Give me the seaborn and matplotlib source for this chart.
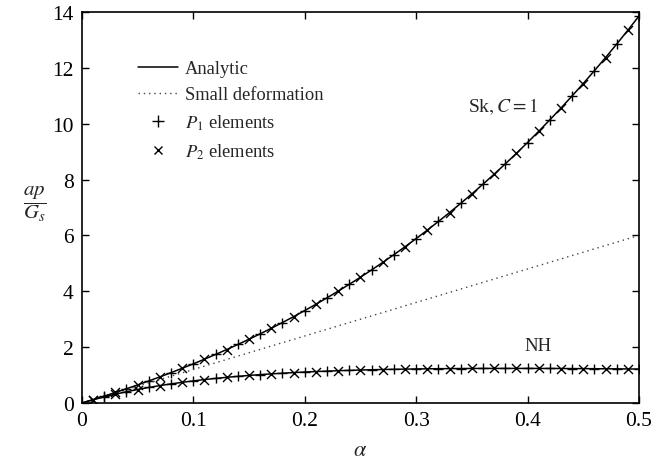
import numpy as np
import pandas as pd
import matplotlib
matplotlib.use("Agg")
import matplotlib.pyplot as plt
from matplotlib.lines import Line2D
import seaborn as sns

# values
alpha = [round(0.01 * i, 2) for i in range(51)]

sk_c1 = [0.000, 0.122, 0.247, 0.377, 0.510, 0.648, 0.790, 0.936, 1.087, 1.242,
         1.403, 1.568, 1.739, 1.915, 2.096, 2.284, 2.477, 2.676, 2.881, 3.092,
         3.310, 3.535, 3.766, 4.005, 4.250, 4.504, 4.764, 5.033, 5.310, 5.594,
         5.887, 6.189, 6.500, 6.819, 7.148, 7.487, 7.835, 8.193, 8.561, 8.939,
         9.328, 9.728, 10.139, 10.561, 10.995, 11.440, 11.898, 12.367, 12.851, 13.346,
         13.854]

nh = [0.000, 0.115, 0.220, 0.316, 0.403, 0.483, 0.557, 0.624, 0.685, 0.741,
      0.792, 0.839, 0.881, 0.920, 0.955, 0.987, 1.017, 1.043, 1.067, 1.089,
      1.109, 1.126, 1.142, 1.157, 1.169, 1.181, 1.191, 1.200, 1.207, 1.214,
      1.220, 1.225, 1.229, 1.232, 1.235, 1.237, 1.238, 1.239, 1.239, 1.239,
      1.239, 1.238, 1.237, 1.235, 1.233, 1.231, 1.228, 1.226, 1.223, 1.220,
      1.216]

small_x = [0.0, 0.5]
small_y = [0.0, 6.0]

df = pd.DataFrame({"alpha": alpha, "sk": sk_c1, "nh": nh})
idx = np.arange(len(df))
p1 = df[(idx % 2 == 0) & (idx > 0)]
p2 = df[idx % 2 == 1]

sns.set_style("ticks")
plt.rcParams["font.family"] = ["Liberation Serif", "DejaVu Serif"]
plt.rcParams["mathtext.fontset"] = "stix"

fig = plt.figure(figsize=(6.55, 4.6), dpi=100)
ax = fig.add_axes([0.125, 0.1217, 0.8505, 0.85])

sns.lineplot(x=small_x, y=small_y, ax=ax, color="#444444", lw=1.0,
             linestyle=(0, (1, 2.8)))
sns.lineplot(data=df, x="alpha", y="sk", ax=ax, color="black", lw=1.1)
sns.lineplot(data=df, x="alpha", y="nh", ax=ax, color="black", lw=1.1)

for col in ["sk", "nh"]:
    sns.scatterplot(data=p1, x="alpha", y=col, ax=ax, marker="+", s=60,
                    color="black", linewidth=1.0)
    sns.scatterplot(data=p2, x="alpha", y=col, ax=ax, marker="x", s=42,
                    color="black", linewidth=1.0)

ax.set_xlim(0, 0.5)
ax.set_ylim(0, 14)
ax.set_xticks([0, 0.1, 0.2, 0.3, 0.4, 0.5])
ax.set_xticklabels(["0", "0.1", "0.2", "0.3", "0.4", "0.5"])
ax.set_yticks(range(0, 15, 2))
ax.tick_params(direction="in", length=5, width=1, top=True, right=True,
               labelsize=15.5, colors="black", pad=6)
for sp in ax.spines.values():
    sp.set_linewidth(1.2)
    sp.set_color("black")

ax.set_xlabel(r"$\alpha$", fontsize=16, labelpad=8)
ax.set_ylabel("")
fig.text(0.053, 0.555, r"$\dfrac{ap}{G_s}$", fontsize=15, ha="center", va="center")

ax.text(0.347, 10.45, r"Sk$, C = 1$", fontsize=14)
ax.text(0.397, 1.9, "NH", fontsize=13.5)

handles = [
    Line2D([], [], color="black", lw=1.1),
    Line2D([], [], color="#444444", lw=1.0, linestyle=(0, (1, 2.8))),
    Line2D([], [], color="black", lw=0, marker="+", markersize=8, markeredgewidth=1),
    Line2D([], [], color="black", lw=0, marker="x", markersize=5.5, markeredgewidth=1),
]
labels = ["Analytic", "Small deformation", r"$P_1$ elements", r"$P_2$ elements"]
ax.legend(handles, labels, loc="upper left", bbox_to_anchor=(0.1, 0.877),
          frameon=False, fontsize=13.3, handlelength=2.2, handletextpad=0.35,
          labelspacing=0.5, borderpad=0, borderaxespad=0)

fig.savefig("out.png", dpi=100)
